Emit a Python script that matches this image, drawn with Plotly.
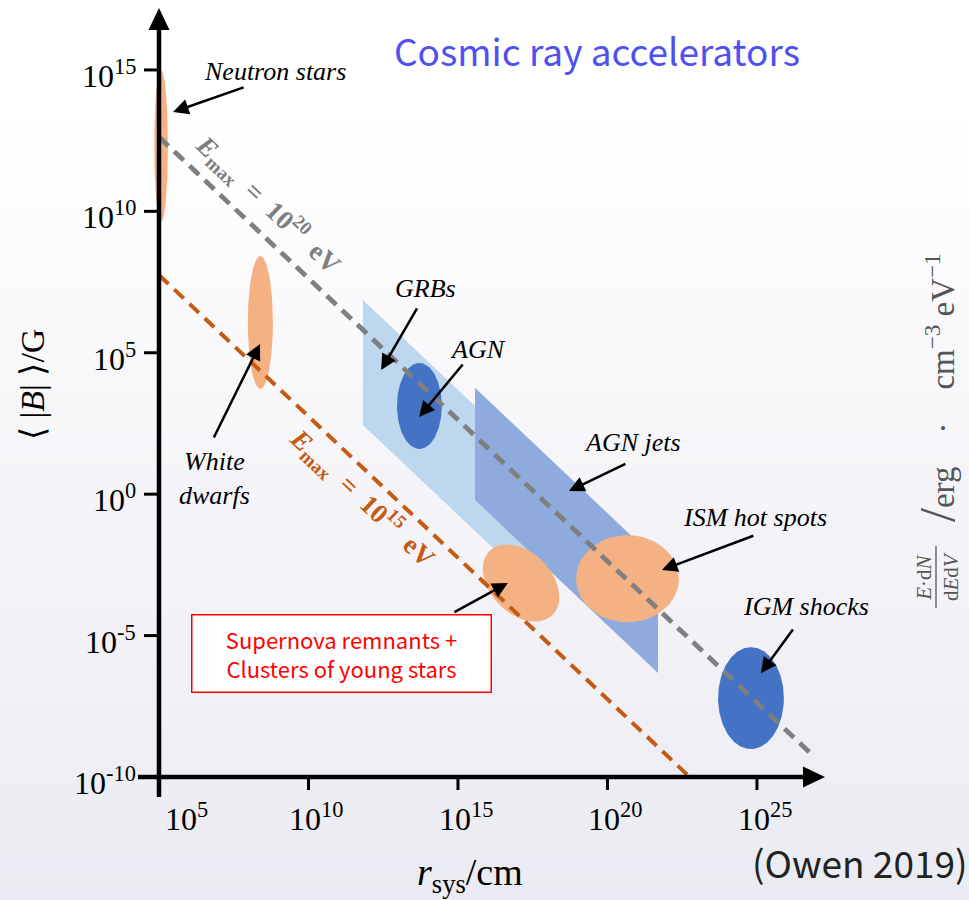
import numpy as np
import plotly.graph_objects as go

# ---------------- data (all in log10 units) ----------------
x_tick_exps = [5, 10, 15, 20, 25]            # log10(r_sys / cm)
y_tick_exps = [15, 10, 5, 0, -5, -10]        # log10(<|B|> / G)

emax_text = ["10<sup>20</sup>", "10<sup>15</sup>"]
emax_logBR = [17.63, 12.75]                  # log10(B*r) on each E_max line
emax_r_start = [5.0, 5.0]
emax_r_end = [26.8, 22.75]

ellipse_names = ["Neutron stars", "White dwarfs", "AGN", "ISM hot spots", "IGM shocks", "SNR"]
ellipse_cx = [5.07, 8.39, 13.71, 20.67, 24.80, 17.11]
ellipse_cy = [12.31, 6.07, 3.12, -2.99, -7.21, -3.14]
ellipse_rx = [0.23, 0.42, 0.75, 1.72, 1.10, 1.55]
ellipse_ry = [2.69, 2.35, 1.52, 1.54, 1.80, 1.05]
ellipse_tilt = [0, 0, 0, 0, 0, -50]
ellipse_kind = ["orange", "orange", "blue", "orange", "blue", "orange"]

band_names = ["GRBs", "AGN jets"]
band_r_min = [11.82, 15.57]
band_r_max = [17.74, 21.69]
band_B_top = [6.87, 3.76]      # at r_min
band_B_bottom = [2.45, -0.205]  # at r_min
band_slope = -1.0               # B ~ 1/r

label_text = ["Neutron stars", "White<br>dwarfs", "GRBs", "AGN", "AGN jets", "ISM hot spots", "IGM shocks"]
label_x = [8.88, 6.87, 13.90, 15.67, 20.85, 24.93, 26.64]
label_y = [14.93, 0.57, 7.29, 5.10, 1.81, -0.84, -3.96]

arrow_tail_x = [7.88, 6.81, 13.66, 15.20, 20.65, 24.93, 26.24, 14.83]
arrow_tail_y = [14.40, 1.95, 6.62, 4.64, 1.10, -1.45, -4.73, -4.20]
arrow_head_x = [5.47, 8.38, 12.43, 13.70, 18.71, 21.82, 25.13, 16.67]
arrow_head_y = [13.51, 5.31, 4.39, 2.73, 0.11, -2.68, -6.33, -3.14]

# ---------------- geometry / styles ----------------
W, H = 969, 900
L, R, T, Bm = 138, 825, 8, 797
X_RANGE = [4.298, 27.276]
Y_RANGE = [-10.707, 17.19]
PX_X = (R - L) / (X_RANGE[1] - X_RANGE[0])
PX_Y = (Bm - T) / (Y_RANGE[1] - Y_RANGE[0])

def paper_x(px):
    return (px - L) / (R - L)

def paper_y(py):
    return (Bm - py) / (Bm - T)

ORANGE = "#f4b183"
DARKBLUE = "#4472c4"
LIGHTBLUE = "#bdd7ee"
JETBLUE = "#8faadc"
GREY = "#7f7f7f"
RUST = "#c55a11"
SERIF = "Liberation Serif"
SANS = "Noto Sans CJK JP"

fig = go.Figure()

# background gradient
shapes = []
N = 60
for i in range(N):
    py0 = i * H / N
    py1 = (i + 1) * H / N
    t = max(0.0, (py0 - 100) / (H - 100))
    r = round(255 - t * 21)
    g = round(255 - t * 21)
    b = round(255 - t * 13)
    shapes.append(dict(type="rect", xref="paper", yref="paper",
                       x0=paper_x(-5), x1=paper_x(W + 5),
                       y0=paper_y(py1 + 1), y1=paper_y(py0),
                       fillcolor=f"rgb({r},{g},{b})", line=dict(width=0), layer="below"))

# bands
band_colors = [LIGHTBLUE, JETBLUE]
for i in range(len(band_names)):
    dx = band_r_max[i] - band_r_min[i]
    xs = [band_r_min[i], band_r_max[i], band_r_max[i], band_r_min[i], band_r_min[i]]
    ys = [band_B_top[i], band_B_top[i] + band_slope * dx,
          band_B_bottom[i] + band_slope * dx, band_B_bottom[i], band_B_top[i]]
    fig.add_trace(go.Scatter(x=xs, y=ys, mode="lines", fill="toself",
                             fillcolor=band_colors[i], line=dict(width=0),
                             hoverinfo="skip", showlegend=False))

# ellipses
tt = np.linspace(0, 2 * np.pi, 181)
for i in range(len(ellipse_names)):
    phi = np.radians(ellipse_tilt[i])
    ex = ellipse_cx[i] + ellipse_rx[i] * np.cos(tt) * np.cos(phi) - ellipse_ry[i] * np.sin(tt) * np.sin(phi)
    ey = ellipse_cy[i] + ellipse_rx[i] * np.cos(tt) * np.sin(phi) + ellipse_ry[i] * np.sin(tt) * np.cos(phi)
    col = ORANGE if ellipse_kind[i] == "orange" else DARKBLUE
    fig.add_trace(go.Scatter(x=ex, y=ey, mode="lines", fill="toself",
                             fillcolor=col, line=dict(width=0),
                             hoverinfo="skip", showlegend=False))

# E_max lines
line_cols = [GREY, RUST]
line_w = [4.8, 4.0]
for i in range(len(emax_logBR)):
    xs = [emax_r_start[i], emax_r_end[i]]
    ys = [emax_logBR[i] - x for x in xs]
    fig.add_trace(go.Scatter(x=xs, y=ys, mode="lines",
                             line=dict(color=line_cols[i], width=line_w[i], dash="13px,8px"),
                             hoverinfo="skip", showlegend=False))

# axes
ax_w = 4.5
y_tip = Y_RANGE[1]
x_tip = X_RANGE[1]
shapes.append(dict(type="line", xref="x", yref="y", x0=5, x1=5,
                   y0=Y_RANGE[0], y1=y_tip - 18 / PX_Y,
                   line=dict(color="black", width=ax_w), layer="above"))
shapes.append(dict(type="line", xref="x", yref="y", x0=X_RANGE[0], x1=x_tip - 18 / PX_X,
                   y0=-10, y1=-10, line=dict(color="black", width=ax_w), layer="above"))
# arrow heads
hw_y = 10.5 / PX_X
hl_y = 22 / PX_Y
shapes.append(dict(type="path", xref="x", yref="y",
                   path=f"M {5 - hw_y},{y_tip - hl_y} L 5,{y_tip} L {5 + hw_y},{y_tip - hl_y} Z",
                   fillcolor="black", line=dict(width=0), layer="above"))
hw_x = 10.5 / PX_Y
hl_x = 22 / PX_X
shapes.append(dict(type="path", xref="x", yref="y",
                   path=f"M {x_tip - hl_x},{-10 + hw_x} L {x_tip},-10 L {x_tip - hl_x},{-10 - hw_x} Z",
                   fillcolor="black", line=dict(width=0), layer="above"))
# ticks
for e in y_tick_exps:
    shapes.append(dict(type="line", xref="x", yref="y", x0=5 - 15 / PX_X, x1=5, y0=e, y1=e,
                       line=dict(color="black", width=3), layer="above"))
for e in x_tick_exps[1:]:
    shapes.append(dict(type="line", xref="x", yref="y", x0=e, x1=e, y0=-10, y1=-10 - 13 / PX_Y,
                       line=dict(color="black", width=3), layer="above"))

annotations = []

def sup_exp(e):
    s = str(e) if e >= 0 else "-" + str(-e)
    return f"10<sup>{s}</sup>"

tick_font = dict(family=SERIF, size=32, color="black")
for e in y_tick_exps:
    annotations.append(dict(x=5, y=e, xref="x", yref="y", text=sup_exp(e), showarrow=False,
                            xanchor="right", yanchor="middle", xshift=-21, yshift=-4,
                            font=tick_font))
for k, e in enumerate(x_tick_exps):
    annotations.append(dict(x=e, y=-10, xref="x", yref="y", text=sup_exp(e), showarrow=False,
                            xanchor="center", yanchor="top", xshift=(28 if k == 0 else 8), yshift=-18,
                            font=tick_font))

def ptext(px, py, text, font, angle=0):
    annotations.append(dict(x=paper_x(px), y=paper_y(py), xref="paper", yref="paper",
                            xanchor="center", yanchor="middle", text=text, textangle=angle,
                            showarrow=False, font=font))

# axis titles
ptext(32, 385, "⟨ |<i>B</i>| ⟩/G", dict(family=SERIF, size=34, color="black"), -90)
ptext(470, 875, "<i>r</i><sub>sys</sub>/cm", dict(family=SERIF, size=38, color="black"))

# right side label
ptext(937, 388,
      "<span style='font-size:50px'>/</span>erg    ·    cm<sup>−3</sup> eV<sup>−1</sup>",
      dict(family=SERIF, size=33, color="#555555"), -90)
ptext(937, 577, "<i>E</i>·d<i>N</i><br>d<i>E</i>d<i>V</i>", dict(family=SERIF, size=21, color="#555555"), -90)
shapes.append(dict(type="line", xref="paper", yref="paper",
                   x0=paper_x(936), x1=paper_x(936), y0=paper_y(546), y1=paper_y(608),
                   line=dict(color="#555555", width=1.3)))

# title & source
ptext(597, 50, "Cosmic ray accelerators", dict(family=SANS, size=37, color="#5050f0"))
ptext(860, 862, "(Owen 2019)", dict(family=SANS, size=37, color="#222222"))

# E_max line labels
angle = np.degrees(np.arctan(PX_Y / PX_X))
emax_lab_x = [8.65, 11.82]
emax_lab_y = [10.26, -0.14]
for i in range(len(emax_text)):
    annotations.append(dict(x=emax_lab_x[i], y=emax_lab_y[i], xref="x", yref="y",
                            xanchor="center", yanchor="middle",
                            text=f"<b><i>E</i><sub>max</sub>  =  {emax_text[i]}  eV</b>",
                            textangle=angle, showarrow=False,
                            font=dict(family=SERIF, size=27, color=line_cols[i])))

# object labels
for i in range(len(label_text)):
    annotations.append(dict(x=label_x[i], y=label_y[i], xref="x", yref="y",
                            xanchor="center", yanchor="middle",
                            text=f"<i>{label_text[i]}</i>", showarrow=False,
                            font=dict(family=SERIF, size=26, color="black")))

# SNR box
annotations.append(dict(x=11.12, y=-5.65, xref="x", yref="y", xanchor="center", yanchor="middle",
                        text="Supernova remnants +<br>Clusters of young stars", showarrow=False,
                        width=296, height=74, bgcolor="white", bordercolor="#ff0000", borderwidth=1.5,
                        font=dict(family=SANS, size=22, color="#ff0000")))

# arrows
for i in range(len(arrow_head_x)):
    annotations.append(dict(x=arrow_head_x[i], y=arrow_head_y[i], xref="x", yref="y",
                            ax=arrow_tail_x[i], ay=arrow_tail_y[i], axref="x", ayref="y",
                            text="", showarrow=True, arrowhead=2, arrowsize=1.25,
                            arrowwidth=2.5, arrowcolor="black"))

fig.update_layout(
    width=W, height=H, autosize=False,
    margin=dict(l=L, r=W - R, t=T, b=H - Bm, pad=0),
    paper_bgcolor="white", plot_bgcolor="rgba(0,0,0,0)",
    xaxis=dict(range=X_RANGE, visible=False, fixedrange=True),
    yaxis=dict(range=Y_RANGE, visible=False, fixedrange=True),
    shapes=shapes, annotations=annotations, showlegend=False,
)

fig.write_html("out.html")
